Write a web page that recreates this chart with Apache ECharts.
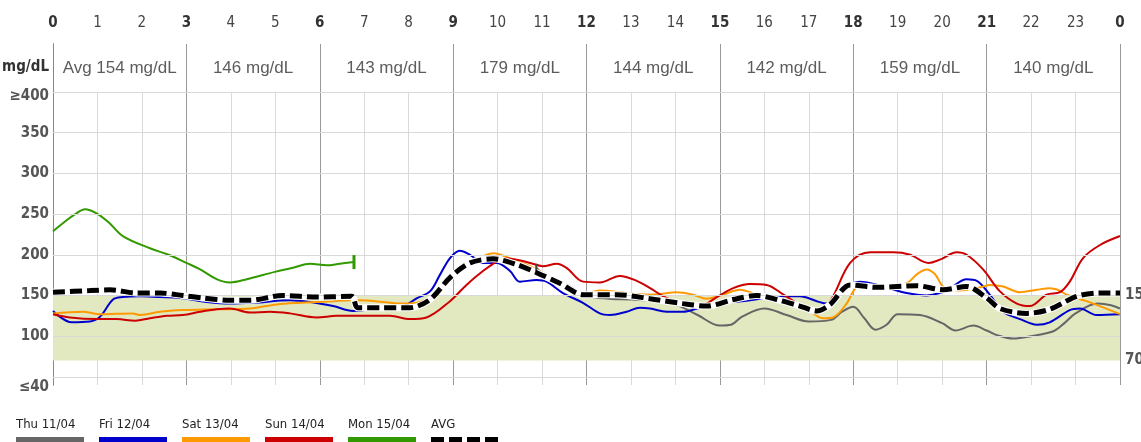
<!DOCTYPE html>
<html><head><meta charset="utf-8">
<script src="https://cdn.jsdelivr.net/npm/echarts@6/dist/echarts.min.js"></script>
<style>html,body{margin:0;padding:0;background:#fff;overflow:hidden}#c{width:1141px;height:442px}</style>
</head><body><div id="c"></div>
<script>
// ---- tick labels ----
const hourLabels = ['0','1','2','3','4','5','6','7','8','9','10','11','12','13','14','15','16','17','18','19','20','21','22','23','0'];
const leftLabelValues = [400, 350, 300, 250, 200, 150, 100, 40];
const leftLabelTexts  = ['≥400','350','300','250','200','150','100','≤40'];
const rightLabelValues = [150, 70];
const gridValues = [50, 100, 150, 200, 250, 300, 350, 400];
const targetRange = [70, 150];
const blockCenters = [1.5, 4.5, 7.5, 10.5, 13.5, 16.5, 19.5, 22.5];
const blockLabels = ['Avg 154 mg/dL','146 mg/dL','143 mg/dL','179 mg/dL','144 mg/dL','142 mg/dL','159 mg/dL','140 mg/dL'];

// ---- series data (hour of day, mg/dL) ----
const thuH = [10.87, 11, 11.5, 12, 12.5, 13, 13.5, 14, 14.5, 15, 15.25, 15.5, 16, 16.5, 17, 17.5, 17.75, 18, 18.25, 18.5, 18.75, 19, 19.5, 20, 20.3, 20.7, 21, 21.25, 21.6, 22, 22.5, 22.75, 23, 23.5, 23.8, 24];
const thuV = [184, 178, 165, 150, 146, 145, 143, 139, 126, 113, 114, 124, 134, 126, 118, 120, 130, 136, 122, 108, 114, 127, 126, 116, 107, 113, 107, 101, 97, 100, 106, 116, 128, 140, 138, 134];

const friH = [0, 0.42, 0.83, 1.06, 1.35, 1.57, 1.96, 2.4, 2.86, 3.46, 3.98, 4.5, 5.33, 5.78, 6.3, 6.75, 7.2, 7.87, 8.2, 8.48, 8.7, 8.93, 9.15, 9.38, 9.67, 9.98, 10.28, 10.5, 10.88, 11.1, 11.47, 11.92, 12.3, 12.53, 12.9, 13.2, 13.43, 13.8, 14.17, 14.55, 14.93, 15.3, 15.68, 16.05, 16.42, 16.8, 17.18, 17.4, 17.7, 17.93, 18.15, 18.67, 19.2, 19.65, 19.95, 20.18, 20.55, 20.78, 21.07, 21.37, 21.75, 22.13, 22.42, 22.87, 23.1, 23.47, 24];
const friV = [131, 117, 118, 124, 145, 148, 149, 148, 147, 142, 140, 141, 144, 142, 137, 131, 133, 137, 147, 155, 175, 196, 205, 200, 190, 190, 180, 167, 169, 167, 153, 141, 128, 126, 130, 135, 134, 130, 130, 135, 139, 142, 144, 147, 149, 149, 143, 140, 151, 163, 167, 161, 153, 150, 153, 159, 170, 168, 151, 130, 121, 114, 117, 132, 134, 126, 127];

const satH = [0, 0.67, 1.06, 1.8, 1.96, 2.41, 2.92, 3.68, 4.43, 5.03, 5.56, 6.3, 6.68, 6.9, 7.42, 7.87, 8.32, 8.93, 9.38, 9.9, 10.43, 10.73, 11.4, 11.92, 12.3, 12.6, 13.0, 13.43, 13.65, 14.03, 14.4, 14.7, 15.07, 15.45, 15.68, 15.9, 16.3, 16.8, 17.1, 17.32, 17.54, 17.85, 18.0, 18.15, 18.67, 19.2, 19.43, 19.65, 19.84, 20.02, 20.3, 20.7, 20.92, 21.07, 21.37, 21.75, 22.13, 22.42, 22.6, 22.8, 23.25, 24];
const satV = [128, 130, 127, 128, 126, 130, 132, 133, 134, 139, 141, 143, 144, 144, 142, 140, 143, 170, 188, 202, 192, 186, 165, 151, 156, 155, 152, 151, 152, 154, 151, 146, 151, 157, 154, 149, 146, 138, 128, 122, 123, 140, 155, 163, 161, 165, 176, 182, 176, 161, 156, 158, 161, 163, 161, 154, 157, 159, 157, 151, 143, 127];

const sunH = [0, 0.38, 0.98, 1.43, 1.85, 2.18, 2.56, 2.92, 3.31, 3.68, 3.98, 4.43, 4.88, 5.33, 5.93, 6.38, 6.9, 7.58, 8.03, 8.4, 8.93, 9.3, 9.67, 9.98, 10.12, 10.43, 10.73, 11.02, 11.33, 11.55, 11.92, 12.3, 12.75, 13.13, 13.43, 13.8, 14.18, 14.55, 14.93, 15.3, 15.68, 16.05, 16.43, 16.8, 17.18, 17.48, 17.93, 18.38, 18.9, 19.28, 19.69, 19.95, 20.33, 20.55, 20.92, 21.3, 21.68, 21.97, 22.35, 22.65, 22.87, 23.17, 23.55, 24];
const sunV = [127, 123, 121, 121, 119, 122, 125, 126, 130, 133, 134, 129, 130, 128, 123, 125, 125, 125, 121, 123, 143, 163, 180, 192, 196, 194, 190, 186, 189, 184, 167, 166, 174, 168, 159, 147, 141, 137, 148, 159, 164, 163, 151, 139, 133, 143, 190, 203, 203, 200, 190, 194, 203, 200, 182, 155, 140, 137, 151, 154, 167, 196, 212, 223];

const monH = [0, 0.25, 0.5, 0.72, 0.98, 1.25, 1.57, 2.18, 2.6, 3.0, 3.31, 3.68, 3.98, 4.36, 4.99, 5.4, 5.78, 6.16, 6.45, 6.77];
const monV = [229, 240, 250, 256, 251, 240, 223, 208, 200, 190, 182, 170, 166, 170, 179, 184, 189, 187, 189, 191];

const avgH = [0, 0.83, 1.28, 1.88, 2.41, 2.92, 3.37, 3.98, 4.43, 5.17, 5.93, 6.72, 6.85, 7.42, 8.03, 8.48, 8.93, 9.38, 9.9, 10.43, 10.88, 11.4, 11.92, 12.68, 13.43, 14.17, 14.7, 15.3, 15.83, 16.28, 16.8, 17.18, 17.48, 17.93, 18.53, 19.43, 20.02, 20.55, 21.0, 21.3, 21.9, 22.42, 23.03, 23.55, 24];
const avgV = [154, 156, 157, 153, 153, 150, 147, 144, 144, 150, 148, 149, 135, 135, 135, 145, 172, 190, 195, 188, 178, 165, 151, 151, 146, 140, 137, 145, 150, 145, 137, 131, 139, 163, 160, 162, 157, 161, 147, 134, 128, 133, 149, 153, 153];

const dayNames  = ['Thu 11/04','Fri 12/04','Sat 13/04','Sun 14/04','Mon 15/04'];
const dayColors = ['#666666','#0000cc','#ff9900','#cc0000','#339900'];
const dayHours  = [thuH, friH, satH, sunH, monH];
const dayValues = [thuV, friV, satV, sunV, monV];
const avgName = 'AVG';

// ---- build chart ----
const FONT = "'Liberation Sans Narrow','DejaVu Sans Condensed','Arial Narrow',sans-serif";
const FONT2 = "'Liberation Sans',Arial,sans-serif";
const pairs = (h, v) => h.map((x, i) => [x, v[i]]);
const leftMap = {}; leftLabelValues.forEach((v, i) => leftMap[v] = leftLabelTexts[i]);

const chart = echarts.init(document.getElementById('c'), null, {renderer: 'canvas'});

const series = [];
series.push({
  type: 'line', xAxisIndex: 0, yAxisIndex: 0, data: [], z: -1, silent: true,
  markArea: {silent: true, itemStyle: {color: '#e2e9c1'},
    data: [[{yAxis: targetRange[0]}, {yAxis: targetRange[1]}]]}
});
series.push({
  type: 'line', xAxisIndex: 0, yAxisIndex: 0, data: [], z: 1, silent: true,
  markLine: {silent: true, symbol: ['none','none'], label: {show: false},
    lineStyle: {color: '#d9d9d9', width: 1, type: 'solid'},
    data: gridValues.map(v => ({yAxis: v}))}
});
dayNames.forEach((name, i) => {
  const s = {
    name, type: 'line', xAxisIndex: 0, yAxisIndex: 0,
    data: pairs(dayHours[i], dayValues[i]),
    symbol: 'none', smooth: 0.35, z: 3,
    lineStyle: {color: dayColors[i], width: 2},
    itemStyle: {color: dayColors[i]}
  };
  if (i === 4) {
    const n = monH.length - 1;
    s.markPoint = {symbol: 'rect', symbolSize: [3, 14], label: {show: false}, silent: true,
      itemStyle: {color: dayColors[i]}, data: [{coord: [monH[n], monV[n]]}]};
  }
  if (i === 0) {
    s.markPoint = {symbol: 'rect', symbolSize: [2, 8], label: {show: false}, silent: true,
      itemStyle: {color: '#444'}, data: [{coord: [thuH[0], thuV[0]]}]};
  }
  series.push(s);
});
series.push({
  type: 'line', xAxisIndex: 0, yAxisIndex: 0, data: pairs(avgH, avgV),
  symbol: 'none', smooth: 0.3, z: 4, silent: true,
  lineStyle: {color: '#ffffff', width: 7}
});
series.push({
  name: avgName, type: 'line', xAxisIndex: 0, yAxisIndex: 0, data: pairs(avgH, avgV),
  symbol: 'none', smooth: 0.3, z: 5,
  lineStyle: {color: '#000000', width: 5, type: [12, 5]}
});
series.push({
  type: 'scatter', xAxisIndex: 2, yAxisIndex: 2,
  data: blockCenters.map(c => [c, 0.5]), symbolSize: 1, silent: true,
  itemStyle: {color: 'rgba(0,0,0,0)'},
  label: {show: true, position: 'inside', formatter: p => blockLabels[p.dataIndex],
    fontFamily: FONT2, fontSize: 17, color: '#333'}
});

// legend drawn as graphic (text above a coloured bar)
const graphic = [];
graphic.push({type: 'text', silent: true, style: {text: 'mg/dL', x: 49, y: 67, align: 'right', verticalAlign: 'middle',
  fontFamily: FONT, fontWeight: 'bold', fontSize: 15, fill: '#333'}});
const legendNames = dayNames.concat([avgName]);
legendNames.forEach((name, i) => {
  const x = 16 + 83 * i;
  graphic.push({type: 'text', silent: true, style: {text: name, x: x, y: 425, verticalAlign: 'middle',
    fontFamily: FONT, fontSize: 13, fill: '#222'}});
  if (i < dayNames.length) {
    graphic.push({type: 'rect', silent: true, shape: {x: x, y: 437, width: 68, height: 6}, style: {fill: dayColors[i]}});
  } else {
    graphic.push({type: 'line', silent: true, shape: {x1: x, y1: 441, x2: x + 69, y2: 441},
      style: {stroke: '#000', lineWidth: 8, lineDash: [13, 5]}});
  }
});

const hourAxisBase = {type: 'value', min: 0, max: 24};
const option = {
  animation: false,
  backgroundColor: '#ffffff',
  grid: [
    {left: 53, right: 21, top: 92, height: 293, containLabel: false, outerBoundsMode: 'none'},
    {left: 53, right: 21, top: 44, height: 48, containLabel: false, outerBoundsMode: 'none'}
  ],
  xAxis: [
    Object.assign({}, hourAxisBase, {gridIndex: 0, position: 'bottom', interval: 1,
      axisLine: {show: false}, axisTick: {show: false}, axisLabel: {show: false},
      splitLine: {show: true, lineStyle: {color: '#d9d9d9', width: 1}}}),
    Object.assign({}, hourAxisBase, {gridIndex: 0, position: 'top', interval: 3,
      axisLine: {show: false}, axisTick: {show: false}, axisLabel: {show: false},
      splitLine: {show: true, lineStyle: {color: '#999999', width: 1}}}),
    Object.assign({}, hourAxisBase, {gridIndex: 1, position: 'top', interval: 1,
      axisLine: {show: false}, axisTick: {show: false}, splitLine: {show: false},
      axisLabel: {show: true, margin: 13, showMinLabel: true, showMaxLabel: true,
        formatter: v => { const t = hourLabels[Math.round(v)]; return (Math.round(v) % 3 === 0 ? '{b|' : '{n|') + t + '}'; },
        rich: {
          b: {fontFamily: FONT, fontWeight: 'bold', fontSize: 15, color: '#333'},
          n: {fontFamily: FONT, fontWeight: 'normal', fontSize: 15, color: '#444'}
        }}}),
    Object.assign({}, hourAxisBase, {gridIndex: 1, position: 'bottom', interval: 3,
      axisLine: {show: false}, axisTick: {show: false}, axisLabel: {show: false},
      splitLine: {show: true, lineStyle: {color: '#999999', width: 1}}})
  ],
  yAxis: [
    {gridIndex: 0, type: 'value', min: 40, max: 400, interval: 10, position: 'left',
      axisLine: {show: true, lineStyle: {color: '#888', width: 1}},
      axisTick: {show: false}, splitLine: {show: false},
      axisLabel: {margin: 4, showMinLabel: true, showMaxLabel: true,
        formatter: v => { const r = Math.round(v); const t = leftMap[r]; if (!t) return '';
          if (r === 400) return '{top|' + t + '}'; if (r === 40) return '{bot|' + t + '}'; return t; },
        rich: {
          top: {fontFamily: FONT, fontWeight: 'bold', fontSize: 15, color: '#555', padding: [9, 0, 0, 0]},
          bot: {fontFamily: FONT, fontWeight: 'bold', fontSize: 15, color: '#555', padding: [5, 0, 0, 0]}
        },
        fontFamily: FONT, fontWeight: 'bold', fontSize: 15, color: '#555'}},
    {gridIndex: 0, type: 'value', min: 40, max: 400, interval: 10, position: 'right',
      axisLine: {show: true, lineStyle: {color: '#888', width: 1}},
      axisTick: {show: false}, splitLine: {show: false},
      axisLabel: {margin: 5, showMinLabel: true, showMaxLabel: true,
        formatter: v => rightLabelValues.indexOf(Math.round(v)) >= 0 ? String(Math.round(v)) : '',
        padding: [6, 0, 0, 0],
        fontFamily: FONT, fontWeight: 'bold', fontSize: 15, color: '#555'}},
    {gridIndex: 1, type: 'value', min: 0, max: 1, position: 'left',
      axisLine: {show: true, lineStyle: {color: '#888', width: 1}},
      axisTick: {show: false}, axisLabel: {show: false}, splitLine: {show: false}},
    {gridIndex: 1, type: 'value', min: 0, max: 1, position: 'right',
      axisLine: {show: true, lineStyle: {color: '#888', width: 1}},
      axisTick: {show: false}, axisLabel: {show: false}, splitLine: {show: false}}
  ],
  graphic: graphic,
  series: series
};
chart.setOption(option);
</script>
</body></html>
